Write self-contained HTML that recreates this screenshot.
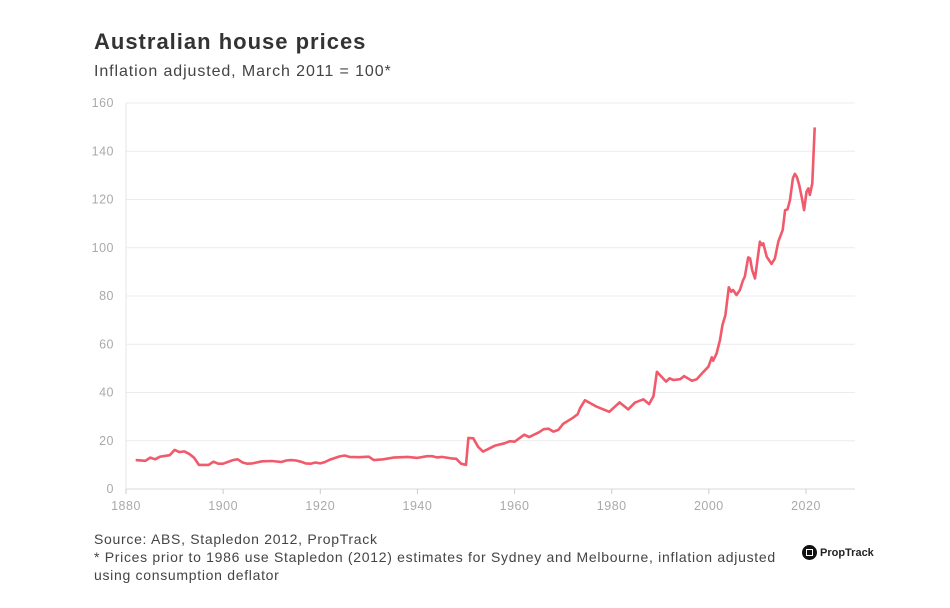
<!DOCTYPE html>
<html><head><meta charset="utf-8"><style>
body{margin:0;width:950px;height:608px;background:#fff;font-family:"Liberation Sans",sans-serif;overflow:hidden;position:relative}
.t{position:absolute;left:94px;top:29px;font-size:22px;font-weight:bold;color:#333;letter-spacing:1px}
.s{position:absolute;left:94px;top:63px;font-size:16px;color:#444;letter-spacing:0.9px}
.src{position:absolute;left:94px;top:530px;font-size:14px;color:#444;line-height:18px;width:690px;letter-spacing:0.7px}
.logo{position:absolute;left:802px;top:545px;display:flex;align-items:center;font-size:11px;font-weight:bold;color:#222}
.logo span.c{width:15px;height:15px;border-radius:50%;background:#111;display:inline-block;margin-right:3px;position:relative}
.logo span.c:after{content:"";position:absolute;left:4px;top:4px;width:5px;height:5px;border:1.5px solid #fff}
svg{position:absolute;left:0;top:0}
</style></head><body>
<div class="t">Australian house prices</div>
<div class="s">Inflation adjusted, March 2011 = 100*</div>
<svg id="c" width="950" height="608"></svg>
<div class="src">Source: ABS, Stapledon 2012, PropTrack<br>* Prices prior to 1986 use Stapledon (2012) estimates for Sydney and Melbourne, inflation adjusted using consumption deflator</div>
<div class="logo"><span class="c"></span>PropTrack</div>
<script>
const years=[1882,1884,1885,1886,1887,1889,1890,1891,1892,1893,1894,1895,1897,1898,1899,1900,1902,1903,1904,1905,1906,1908,1910,1912,1913,1914,1915,1916,1917,1918,1919,1920,1921,1922,1924,1925,1926,1928,1930,1931,1933,1935,1938,1940,1942,1943,1944,1945,1946,1947,1948,1949,1950,1950.5,1951.5,1952.5,1953.5,1954.5,1956,1958,1959,1960,1962,1963,1965,1966,1967,1968,1969,1970,1972,1973,1973.5,1974.5,1976.9,1979.5,1981.6,1983.4,1984.8,1986.5,1987.7,1988.6,1989.3,1991.2,1991.9,1992.7,1994.1,1994.9,1996.5,1997.5,1998.9,1999.9,2000.6,2000.9,2001.6,2002.3,2002.8,2003.4,2004.1,2004.6,2005,2005.7,2006.4,2007,2007.4,2008.1,2008.5,2008.9,2009.5,2010.5,2010.9,2011.2,2011.9,2012.9,2013.6,2014.3,2015.2,2015.7,2016.2,2016.7,2017.3,2017.7,2018.1,2018.6,2019.1,2019.6,2020.1,2020.5,2020.8,2021.3,2021.8];
const prices=[12,11.7,13,12.3,13.4,14,16.2,15.3,15.6,14.6,13,10,10,11.3,10.5,10.5,12,12.3,11,10.5,10.6,11.5,11.6,11.2,11.8,12,11.8,11.3,10.6,10.5,11,10.6,11.2,12.2,13.5,13.9,13.3,13.2,13.4,12,12.3,13,13.3,12.9,13.6,13.6,13.1,13.3,13,12.7,12.5,10.5,10,21.2,21,17.5,15.5,16.5,18,19,19.8,19.6,22.5,21.5,23.5,24.8,25,23.8,24.5,27,29.5,31,33.5,36.8,34.1,32,35.9,33,35.8,37.2,35.2,38.5,48.6,44.5,45.9,45.2,45.5,46.8,44.9,45.5,48.6,50.7,54.6,53.2,56.2,61.8,68,72.1,83.6,81.8,82.5,80.4,82.5,86.4,88,96,95.6,90.8,87.3,102.5,101.1,101.8,96.3,93.3,95.6,102.5,107.4,115.6,115.9,119.8,128.8,130.6,129.4,126,121.2,115.6,123.2,124.6,121.9,126.7,149.9];
const yTicks=[0,20,40,60,80,100,120,140,160];
const xTicks=[1880,1900,1920,1940,1960,1980,2000,2020];
const X=v=>126+(v-1880)*(680/140), Y=v=>489-v*(386/160);
const svg=document.getElementById('c'),NS='http://www.w3.org/2000/svg';
function mk(t,a){const e=document.createElementNS(NS,t);for(const k in a)e.setAttribute(k,a[k]);svg.appendChild(e);return e;}
yTicks.forEach(v=>{
 const l=mk('line',{x1:126,x2:855,y1:Y(v),y2:Y(v),stroke:v?'#ececec':'#d8d8d8','stroke-width':1});
 
 
 const t=mk('text',{x:114,y:Y(v)+4,'text-anchor':'end','font-size':12.5,fill:'#aaa','font-family':'Liberation Sans','letter-spacing':'0.5'});
 t.textContent=v;
 
 
});
const ax=mk('line',{x1:126,x2:126,y1:103,y2:489,stroke:'#e4e4e4'});


xTicks.forEach(v=>{
 mk('line',{x1:X(v),x2:X(v),y1:489,y2:494,stroke:'#ccc'});
 const t=mk('text',{x:X(v),y:510,'text-anchor':'middle','font-size':12.5,fill:'#aaa','font-family':'Liberation Sans','letter-spacing':'0.5'});
 t.textContent=v;
 
 
});
const p=mk('path',{d:years.map((y,i)=>(i?'L':'M')+X(y).toFixed(1)+','+Y(prices[i]).toFixed(1)).join(''),fill:'none',stroke:'#f05a6b','stroke-width':2.6,'stroke-linejoin':'round'});


</script>
</body></html>
